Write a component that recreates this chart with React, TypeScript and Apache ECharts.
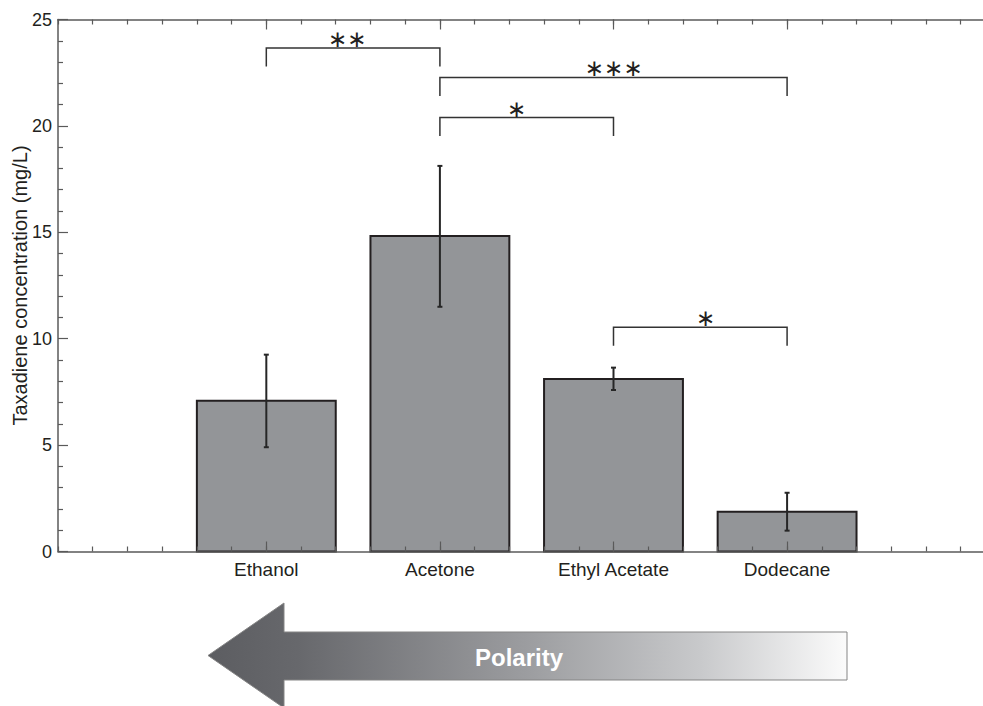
import React, { useEffect, useRef } from "react";
import * as echarts from "echarts";

const categories = ["Ethanol", "Acetone", "Ethyl Acetate", "Dodecane"];
const positions = [1, 2, 3, 4];
const means = [7.08, 14.83, 8.11, 1.87];
const errLow = [4.9, 11.5, 7.59, 0.98];
const errHigh = [9.25, 18.12, 8.64, 2.76];
const yTicks = [0, 5, 10, 15, 20, 25];

const bracketFrom = [1, 2, 2, 3];
const bracketTo = [2, 4, 3, 4];
const bracketTop = [23.66, 22.28, 20.39, 10.54];
const bracketLeg = [22.79, 21.4, 19.52, 9.67];
const bracketLabelX = [1.465, 3.0, 2.44, 3.53];
const bracketLabel = ["∗∗", "∗∗∗", "∗", "∗"];

const FONT = "'Liberation Sans', Arial, Helvetica, sans-serif";
const AXIS = "#5a5a5a";
const INK = "#231f20";

export default function App() {
  const ref = useRef<HTMLDivElement>(null);
  useEffect(() => {
    const chart = echarts.init(ref.current!, null, { renderer: "svg" });
    const barData = positions.map((p, i) => [p, means[i], errLow[i], errHigh[i]]);
    const bracketData = bracketFrom.map((f, i) => [f, bracketTo[i], bracketTop[i], bracketLeg[i], bracketLabelX[i], i]);
    const baseX = { type: "value", min: -0.2, max: 5.2, gridIndex: 0, z: 5, splitLine: { show: false } };
    const minorTick = { show: true, inside: true, length: 5, lineStyle: { color: AXIS, width: 1.2 } };
    const majorTick = { show: true, inside: true, length: 10, customValues: positions, lineStyle: { color: AXIS, width: 1.2 } };
    chart.setOption({
      animation: false,
      grid: { left: 58, top: 19.5, right: -12.4, bottom: 154.5, containLabel: false, outerBoundsMode: "none" },
      xAxis: [
        { ...baseX, position: "bottom", interval: 0.2, axisLine: { show: true, onZero: false, lineStyle: { color: AXIS, width: 1.5 } }, axisTick: minorTick, axisLabel: { show: false } },
        {
          ...baseX, position: "bottom", axisLine: { show: false, onZero: false }, axisTick: majorTick,
          axisLabel: {
            show: true, customValues: positions, margin: 8, fontSize: 19, color: INK, fontFamily: FONT,
            formatter: (v: number) => { const k = positions.indexOf(Math.round(v)); return k >= 0 ? categories[k] : ""; },
          },
        },
        { ...baseX, position: "top", interval: 0.2, axisLine: { show: true, onZero: false, lineStyle: { color: AXIS, width: 1.5 } }, axisTick: minorTick, axisLabel: { show: false } },
        { ...baseX, position: "top", axisLine: { show: false, onZero: false }, axisTick: majorTick, axisLabel: { show: false } },
      ],
      yAxis: [
        {
          type: "value", min: yTicks[0], max: yTicks[yTicks.length - 1], interval: 5, position: "left", z: 5,
          axisLine: { show: true, onZero: false, lineStyle: { color: AXIS, width: 1.5 } },
          axisTick: { show: true, inside: true, length: 10, lineStyle: { color: AXIS, width: 1.2 } },
          minorTick: { show: true, splitNumber: 5, length: 5, lineStyle: { color: AXIS, width: 1.2 } },
          axisLabel: { fontSize: 18, color: INK, fontFamily: FONT, margin: 6 },
          splitLine: { show: false },
          name: "Taxadiene concentration (mg/L)", nameLocation: "middle", nameGap: 28, nameMoveOverlap: false,
          nameTextStyle: { fontSize: 20, color: INK, fontFamily: FONT },
        },
      ],
      series: [
        {
          type: "custom", xAxisIndex: 0, yAxisIndex: 0, z: 2, data: barData,
          renderItem: (params: any, api: any) => {
            const x = api.value(0), y = api.value(1), lo = api.value(2), hi = api.value(3);
            const p0 = api.coord([x - 0.4, 0]);
            const p1 = api.coord([x + 0.4, y]);
            const c = api.coord([x, lo]);
            const h = api.coord([x, hi]);
            const es = { stroke: "#262626", lineWidth: 2 };
            return {
              type: "group",
              children: [
                { type: "rect", shape: { x: p0[0], y: p1[1], width: p1[0] - p0[0], height: p0[1] - p1[1] }, style: { fill: "#939598", stroke: INK, lineWidth: 2 } },
                { type: "line", shape: { x1: c[0], y1: c[1], x2: h[0], y2: h[1] }, style: es },
                { type: "line", shape: { x1: c[0] - 2.5, y1: c[1], x2: c[0] + 2.5, y2: c[1] }, style: es },
                { type: "line", shape: { x1: h[0] - 2.5, y1: h[1], x2: h[0] + 2.5, y2: h[1] }, style: es },
              ],
            };
          },
        },
        {
          type: "custom", xAxisIndex: 0, yAxisIndex: 0, z: 6, data: bracketData,
          renderItem: (params: any, api: any) => {
            const f = api.value(0), t = api.value(1), top = api.value(2), leg = api.value(3), lx = api.value(4);
            const idx = api.value(5);
            const a = api.coord([f, leg]), b = api.coord([f, top]), c = api.coord([t, top]), d = api.coord([t, leg]);
            const tp = api.coord([lx, top]);
            return {
              type: "group",
              children: [
                { type: "polyline", shape: { points: [a, b, c, d] }, style: { stroke: "#333", lineWidth: 1.5, fill: "none" } },
                { type: "text", x: tp[0], y: tp[1] - 9, style: { text: bracketLabel[idx], fontSize: 23, fontFamily: "'DejaVu Sans'", fill: INK, align: "center", verticalAlign: "middle" } },
              ],
            };
          },
        },
      ],
      graphic: [
        {
          type: "polygon",
          shape: { points: [[208, 655.5], [284, 603], [284, 632], [847, 632], [847, 680], [284, 680], [284, 708]] },
          style: {
            fill: {
              type: "linear", x: 0, y: 0, x2: 1, y2: 0,
              colorStops: [
                { offset: 0, color: "#5c5d61" },
                { offset: 0.14, color: "#67686c" },
                { offset: 0.5, color: "#9c9da0" },
                { offset: 0.77, color: "#c8c9cb" },
                { offset: 1, color: "#fbfbfb" },
              ],
            },
            stroke: "#858585", lineWidth: 1,
          },
        },
        {
          type: "text", x: 519, y: 657,
          style: { text: "Polarity", fontSize: 24, fontWeight: "bold", fontFamily: FONT, fill: "#ffffff", align: "center", verticalAlign: "middle" },
        },
      ],
    });
    return () => chart.dispose();
  }, []);
  return <div ref={ref} style={{ position: "absolute", left: 0, top: 0, width: 983, height: 706, background: "#fff" }} />;
}
